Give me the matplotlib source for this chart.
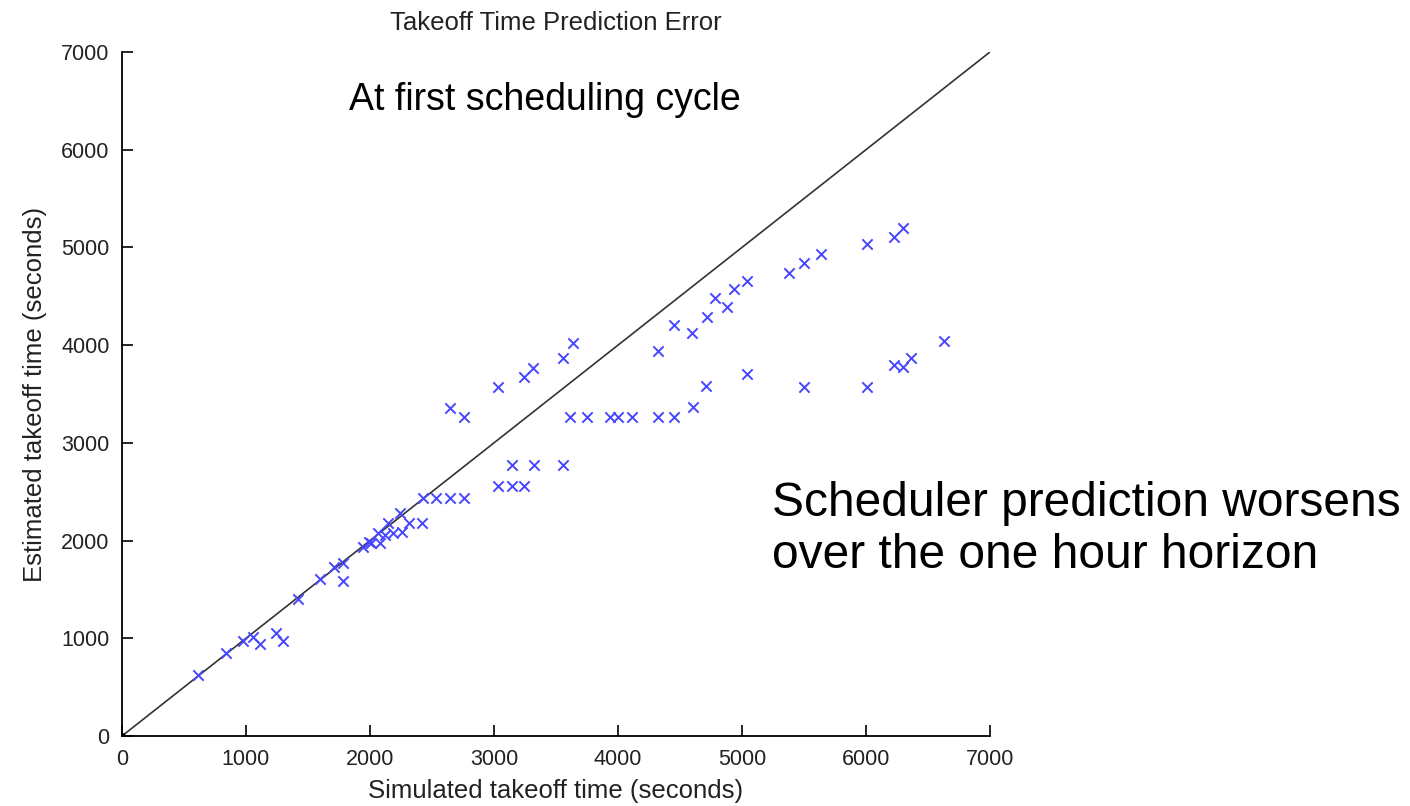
import matplotlib
matplotlib.use("Agg")
import matplotlib.pyplot as plt

# simulated vs estimated takeoff times (seconds)
simulated = [615, 839, 978, 1054, 1113, 1242, 1296, 1422, 1597, 1712, 1785, 1779,
             1946, 1990, 2005, 2067, 2081, 2121, 2148, 2188, 2242, 2255, 2317, 2417,
             2430, 2532, 2645, 2758,
             2645, 2758, 3035, 3242, 3312, 3554, 3634,
             3035, 3148, 3242, 3148, 3325, 3554,
             3613, 3747, 3935, 4003, 4116, 4325, 4454, 4602, 4710,
             4325, 4454, 4598, 4715, 4782, 4876, 4938, 5038, 5379, 5502, 5634,
             6005, 6228, 6295,
             5038, 5502, 6005, 6228, 6295, 6360, 6632]
estimated = [624, 846, 976, 1010, 942, 1058, 976, 1402, 1604, 1727, 1774, 1590,
             1938, 1990, 1975, 2075, 1972, 2057, 2183, 2075, 2280, 2092, 2183, 2183,
             2433, 2433, 2433, 2433,
             3354, 3269, 3576, 3678, 3763, 3865, 4026,
             2559, 2559, 2559, 2774, 2774, 2774,
             3269, 3269, 3269, 3269, 3269, 3269, 3269, 3371, 3582,
             3944, 4207, 4128, 4292, 4480, 4394, 4575, 4660, 4742, 4844, 4930,
             5032, 5111, 5197,
             3702, 3576, 3576, 3797, 3780, 3865, 4046]

ideal = [0, 7000]

font = "Liberation Sans"

fig = plt.figure(figsize=(14.1, 8.06), dpi=100)
ax = fig.add_axes([0.0865, 0.0868, 0.6156, 0.8487])

ax.plot(ideal, ideal, color="#333333", linewidth=1.2, zorder=2)
ax.plot([0], [0], "o", color="black", markersize=4, zorder=3)
ax.scatter(simulated, estimated, marker="x", color="#4646ff", s=55,
           linewidths=1.4, zorder=4)

ax.set_xlim(0, 7000)
ax.set_ylim(0, 7000)
ax.set_xticks(range(0, 7001, 1000))
ax.set_yticks(range(0, 7001, 1000))
for lab in ax.get_xticklabels() + ax.get_yticklabels():
    lab.set_family(font)
    lab.set_fontsize(15.5)
    lab.set_color("#222222")
ax.tick_params(direction="in", length=8, width=1.2)
ax.tick_params(axis="y", pad=9)
ax.tick_params(axis="x", pad=9)
ax.spines["top"].set_visible(False)
ax.spines["right"].set_visible(False)
ax.spines["left"].set_linewidth(1.3)
ax.spines["bottom"].set_linewidth(1.3)

ax.set_xlabel("Simulated takeoff time (seconds)", family=font, fontsize=18.5,
              color="#222222", labelpad=7)
ax.set_ylabel("Estimated takeoff time (seconds)", family=font, fontsize=18.5,
              color="#222222", labelpad=10)
ax.set_title("Takeoff Time Prediction Error", family=font, fontsize=18.5,
             color="#222222", pad=16)

fig.text(0.3865, 0.876, "At first scheduling cycle", family=font,
         fontsize=27, ha="center", va="center")
fig.text(0.5475, 0.343, "Scheduler prediction worsens\nover the one hour horizon",
         family=font, fontsize=34.5, ha="left", va="center",
         linespacing=1.2)

fig.savefig("out.png", dpi=100)
